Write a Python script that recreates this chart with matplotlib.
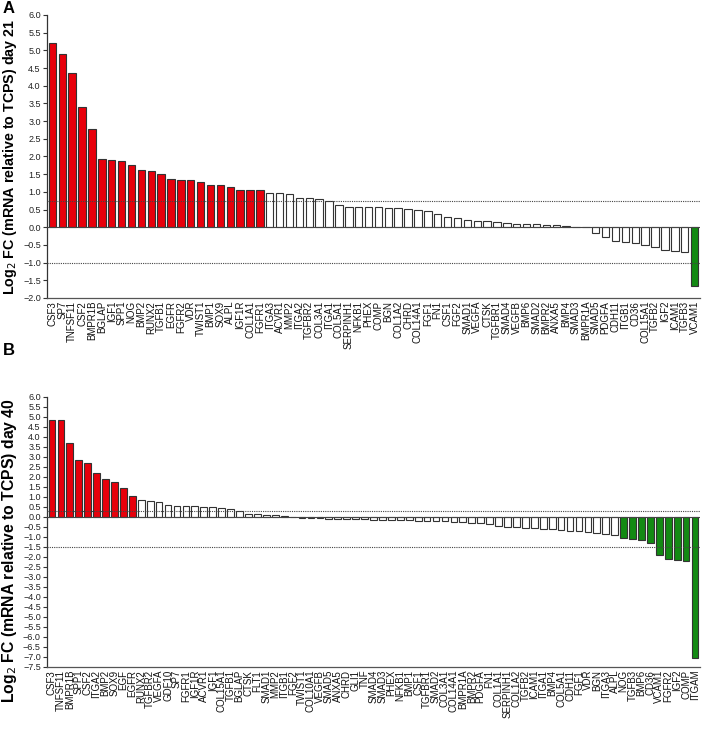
import matplotlib
matplotlib.use("Agg")
import matplotlib.pyplot as plt
import numpy as np

plt.rcParams['font.family'] = ['Liberation Sans', 'DejaVu Sans']

# ---------------- Panel A (day 21) ----------------
genes_a = ["CSF3", "SP7", "TNFSF11", "CSF2", "BMPR1B", "BGLAP", "IGF1", "SPP1", "NOG", "BMP2",
           "RUNX2", "TGFB1", "EGFR", "FGFR2", "VDR", "TWIST1", "BMP1", "SOX9", "ALPL", "IGF1R",
           "COL1A1", "FGFR1", "ITGA3", "ACVR1", "MMP2", "ITGA2", "TGFBR2", "COL3A1", "ITGA1", "COL5A1",
           "SERPINH1", "NFKB1", "PHEX", "COMP", "BGN", "COL1A2", "CHRD", "COL14A1", "FGF1", "FN1",
           "CSF1", "FGF2", "SMAD1", "VEGFA", "CTSK", "TGFBR1", "SMAD4", "VEGFB", "BMP6", "SMAD2",
           "BMPR2", "ANXA5", "BMP4", "SMAD3", "BMPR1A", "SMAD5", "PDGFA", "CDH11", "ITGB1", "CD36",
           "COL15A1", "TGFB2", "IGF2", "ICAM1", "TGFB3", "VCAM1"]
values_a = [5.2, 4.9, 4.35, 3.4, 2.78, 1.93, 1.9, 1.87, 1.75, 1.62,
            1.58, 1.5, 1.37, 1.34, 1.33, 1.27, 1.19, 1.18, 1.15, 1.05,
            1.04, 1.04, 0.98, 0.97, 0.95, 0.84, 0.82, 0.80, 0.74, 0.62,
            0.58, 0.57, 0.56, 0.56, 0.55, 0.54, 0.52, 0.48, 0.45, 0.38,
            0.30, 0.27, 0.20, 0.18, 0.17, 0.15, 0.12, 0.10, 0.10, 0.08,
            0.07, 0.06, 0.03, 0.01, 0.0, -0.17, -0.28, -0.38, -0.42, -0.45,
            -0.51, -0.57, -0.63, -0.67, -0.70, -1.67]
n_up_a = 22
n_down_a = 1
upper_line_a = 0.74
lower_line_a = -1.0

# ---------------- Panel B (day 40) ----------------
genes_b = ["CSF3", "TNFSF11", "BMPR1B", "SPP1", "CSF2", "ITGA2", "BMP2", "SOX9", "EGF", "EGFR",
           "RUNX2", "TGFBR2", "VEGFA", "GDF10", "SP7", "FGFR1", "IGF1R", "ACVR1", "IGF1", "COL15A1",
           "TGFB1", "BGLAP", "CTSK", "FLT1", "SMAD1", "MMP2", "ITGB1", "FGF2", "TWIST1", "COL10A1",
           "VEGFB", "SMAD5", "ANXA5", "CHRD", "GLI1", "TNF", "SMAD4", "SMAD3", "PHEX", "NFKB1",
           "BMP1", "CSF1", "TGFBR1", "SMAD2", "COL3A1", "COL14A1", "BMPR1A", "BMPR2", "PDGFA", "FN1",
           "COL1A1", "SERPINH1", "COL1A2", "TGFB2", "ICAM1", "ITGA1", "BMP4", "COL5A1", "CDH11", "FGF1",
           "VDR", "BGN", "ITGA3", "ALPL", "NOG", "TGFB3", "BMP6", "CD36", "VCAM1", "FGFR2",
           "IGF2", "COMP", "ITGAM"]
values_b = [4.85, 4.85, 3.7, 2.83, 2.72, 2.2, 1.88, 1.75, 1.47, 1.03,
            0.83, 0.80, 0.75, 0.58, 0.57, 0.55, 0.54, 0.52, 0.50, 0.45,
            0.40, 0.30, 0.15, 0.14, 0.10, 0.08, 0.05, 0.02, -0.03, -0.05,
            -0.06, -0.08, -0.09, -0.10, -0.11, -0.12, -0.13, -0.14, -0.15, -0.16,
            -0.17, -0.18, -0.19, -0.20, -0.22, -0.24, -0.26, -0.28, -0.30, -0.33,
            -0.45, -0.50, -0.52, -0.55, -0.57, -0.60, -0.62, -0.64, -0.70, -0.72,
            -0.75, -0.80, -0.85, -0.90, -1.05, -1.10, -1.15, -1.30, -1.90, -2.10,
            -2.15, -2.20, -7.05]
n_up_b = 10
n_down_b = 9
upper_line_b = 0.3
lower_line_b = -1.52

RED = "#e8000b"
GREEN = "#138a13"
EDGE = "#333333"

fig = plt.figure(figsize=(7.09, 7.42), dpi=100)


def panel(rect, genes, values, n_up, n_down, y_lo, y_hi, up_line, low_line, day, letter, letter_y,
          label_size, label_y):
    ax = fig.add_axes(rect)
    n = len(values)
    x = np.arange(n)
    colors = []
    for i in range(n):
        if i < n_up:
            colors.append(RED)
        elif i >= n - n_down:
            colors.append(GREEN)
        else:
            colors.append("white")
    ax.bar(x, values, width=0.75, color=colors, edgecolor=EDGE, linewidth=0.8, zorder=3)
    ax.set_xlim(-0.55, n - 0.45)
    ax.set_ylim(y_lo, y_hi)
    ax.axhline(0, color="#444444", linewidth=0.8, zorder=4)
    ax.axhline(up_line, color="#444444", linewidth=0.8, linestyle=(0, (1, 1)), zorder=5)
    ax.axhline(low_line, color="#444444", linewidth=0.8, linestyle=(0, (1, 1)), zorder=5)
    ticks = np.arange(y_lo, y_hi + 0.01, 0.5)
    ax.set_yticks(ticks)
    ax.set_yticklabels([f"{t:.1f}".replace("-", "\u2212") if abs(t) > 1e-9 else "0.0" for t in ticks],
                       fontsize=6.5, color="#222222")
    ax.set_xticks(x)
    ax.set_xticklabels(genes, rotation=90, fontsize=7.0, color="#111111")
    ax.tick_params(axis="x", length=0, pad=2)
    ax.tick_params(axis="y", length=3, width=0.8, pad=1.5, color="#333333")
    for s in ["top", "right"]:
        ax.spines[s].set_visible(False)
    ax.spines["left"].set_color("#333333")
    ax.spines["bottom"].set_color("#555555")
    ax.spines["left"].set_linewidth(0.9)
    ax.spines["bottom"].set_linewidth(0.9)
    ax.set_ylabel(f"Log$_2$ FC (mRNA relative to TCPS) day {day}", fontsize=label_size,
                  fontweight="bold")
    ax.yaxis.set_label_coords(-0.043, label_y)
    fig.text(0.004, letter_y, letter, fontsize=12, fontweight="bold", va="top", ha="left")
    return ax


panel([0.0663, 0.5984, 0.921, 0.3814], genes_a, values_a, n_up_a, n_down_a,
      -2.0, 6.0, upper_line_a, lower_line_a, 21, "A", 0.998, 10.3, 0.50)
panel([0.0663, 0.1011, 0.921, 0.3639], genes_b, values_b, n_up_b, n_down_b,
      -7.5, 6.0, upper_line_b, lower_line_b, 40, "B", 0.538, 11.3, 0.43)

fig.savefig("out.png", dpi=100)
